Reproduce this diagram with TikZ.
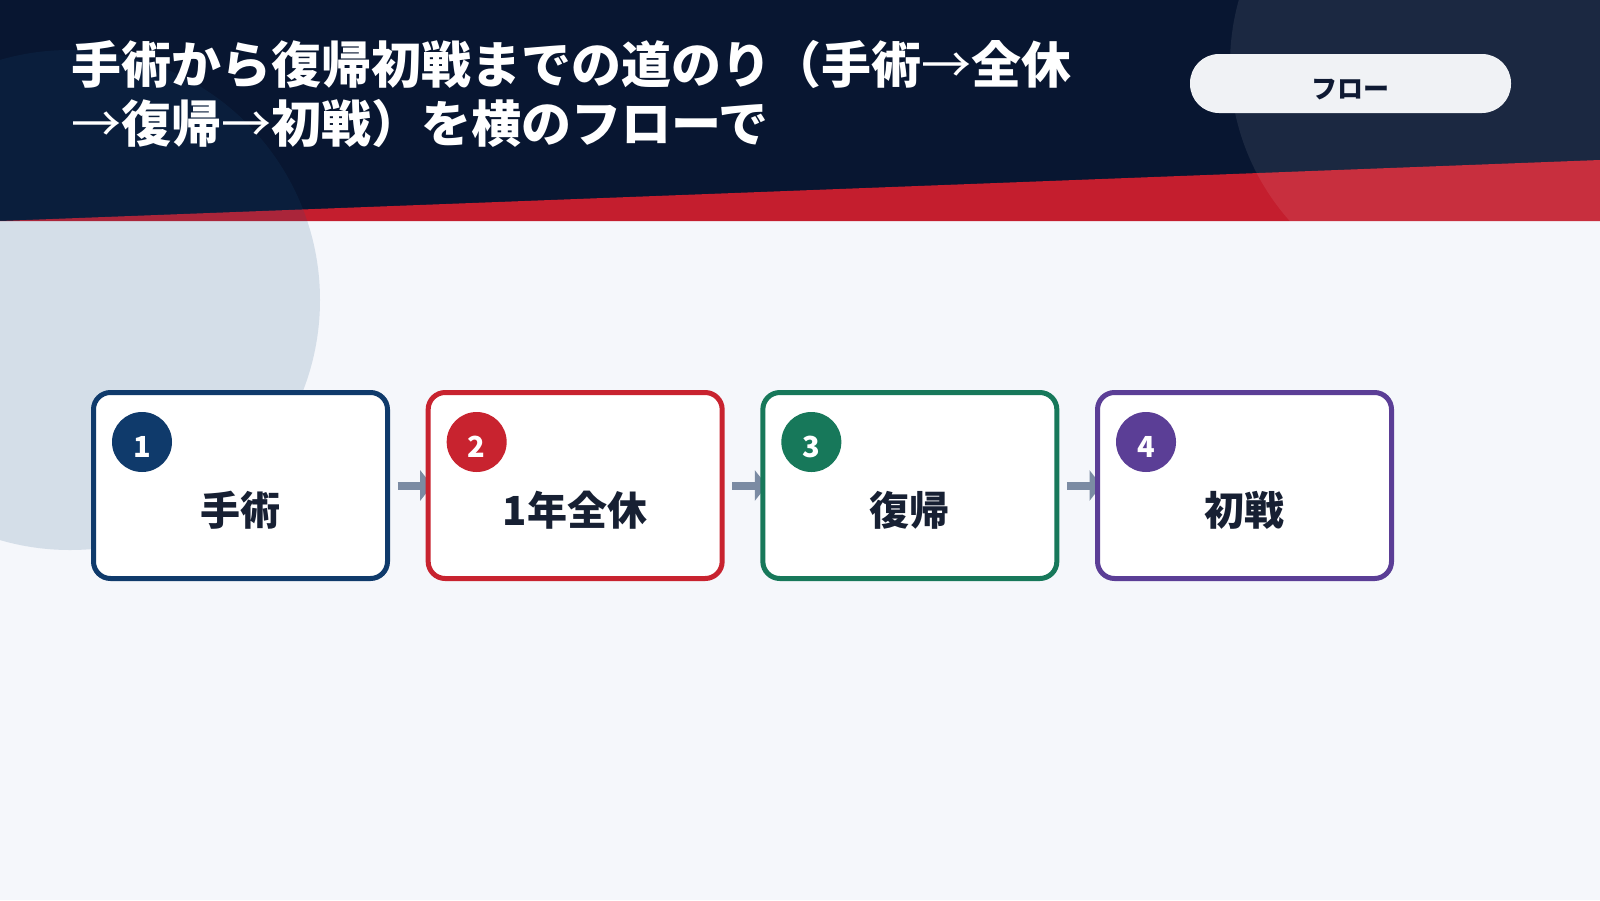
\documentclass[tikz,border=0pt]{standalone}
\usepackage{fontspec}
\setmainfont{Noto Sans CJK JP}
\usetikzlibrary{arrows.meta}
\pgfdeclarelayer{back}
\pgfdeclarelayer{mid}
\pgfsetlayers{back,mid,main}
\definecolor{bgc}{HTML}{F5F7FB}
\definecolor{hdr}{HTML}{081631}
\definecolor{band}{HTML}{C41E2E}
\definecolor{circA}{HTML}{1B5281}
\definecolor{cA}{HTML}{0F3A6B}
\definecolor{cB}{HTML}{C8232F}
\definecolor{cC}{HTML}{17785A}
\definecolor{cD}{HTML}{5B3E96}
\definecolor{arrc}{HTML}{7B8BA3}
\definecolor{txt}{HTML}{172033}
\definecolor{pillf}{HTML}{F0F2F5}
\definecolor{pillt}{HTML}{0F1A33}
\newcommand\thinarrow{{\mdseries →}}
\tikzset{
  titletxt/.style={text=white, inner sep=0pt, font=\fontsize{50}{60}\selectfont\bfseries},
  pill/.style={fill=pillf, minimum width=321pt, minimum height=59pt, rounded corners=29pt, inner sep=0pt},
  pilltxt/.style={text=pillt, inner sep=0pt, font=\fontsize{26}{30}\selectfont\bfseries},
  stepbox/.style={fill=white, line width=5pt, minimum width=294pt, minimum height=186pt, rounded corners=17pt, inner sep=0pt, outer sep=0pt},
  badge/.style={circle, minimum size=60pt, inner sep=0pt},
  badgetxt/.style={text=white, inner sep=0pt, font=\fontsize{29}{32}\selectfont\bfseries},
  lbl/.style={text=txt, inner sep=0pt, font=\fontsize{40}{46}\selectfont\bfseries},
  arr/.style={draw=arrc, line width=8pt, -{Triangle[length=12pt,width=30pt]}}
}
\begin{document}
\begin{tikzpicture}[x=1pt,y=-1pt]
\useasboundingbox (0,0) rectangle (1600,900);
\begin{pgfonlayer}{back}
\fill[bgc] (0,0) rectangle (1600,900);
\fill[hdr] (0,0) rectangle (1600,221);
\fill[band] (0,221) -- (1600,160) -- (1600,221) -- cycle;
\fill[circA, opacity=0.15] (70,300) circle[radius=250pt];
\fill[white, opacity=0.08] (1466,64) circle[radius=236pt];
\end{pgfonlayer}
\node[titletxt, anchor=base west] (t1) at (71,83) {手術から復帰初戦までの道のり（手術\thinarrow 全休};
\node[titletxt, anchor=base west] (t2) at (71,142) {\thinarrow 復帰\thinarrow 初戦）を横のフローで};
\node[pill] (tag) at (1350.5,83.5) {};
\node[pilltxt, anchor=base] (tagt) at (1350,98) {フロー};
\foreach \i/\c/\t in {1/cA/手術, 2/cB/1年全休, 3/cC/復帰, 4/cD/初戦} {
  \node[stepbox, draw=\c] (b\i) at ({240.5+334.67*(\i-1)},485.5) {};
  \node[badge, fill=\c] (n\i) at ([shift={(-98.5,-43.5)}]b\i.center) {};
  \node[badgetxt, anchor=base] (d\i) at ([yshift=-15pt]n\i.center) {\i};
  \node[lbl, anchor=base] (l\i) at ({240.5+334.67*(\i-1)},525) {\t};
}
\begin{pgfonlayer}{mid}
\foreach \a/\b in {1/2, 2/3, 3/4} {
  \draw[arr] ([xshift=10pt]b\a.east) -- ([xshift=4pt]b\b.west);
}
\end{pgfonlayer}
\end{tikzpicture}
\end{document}
